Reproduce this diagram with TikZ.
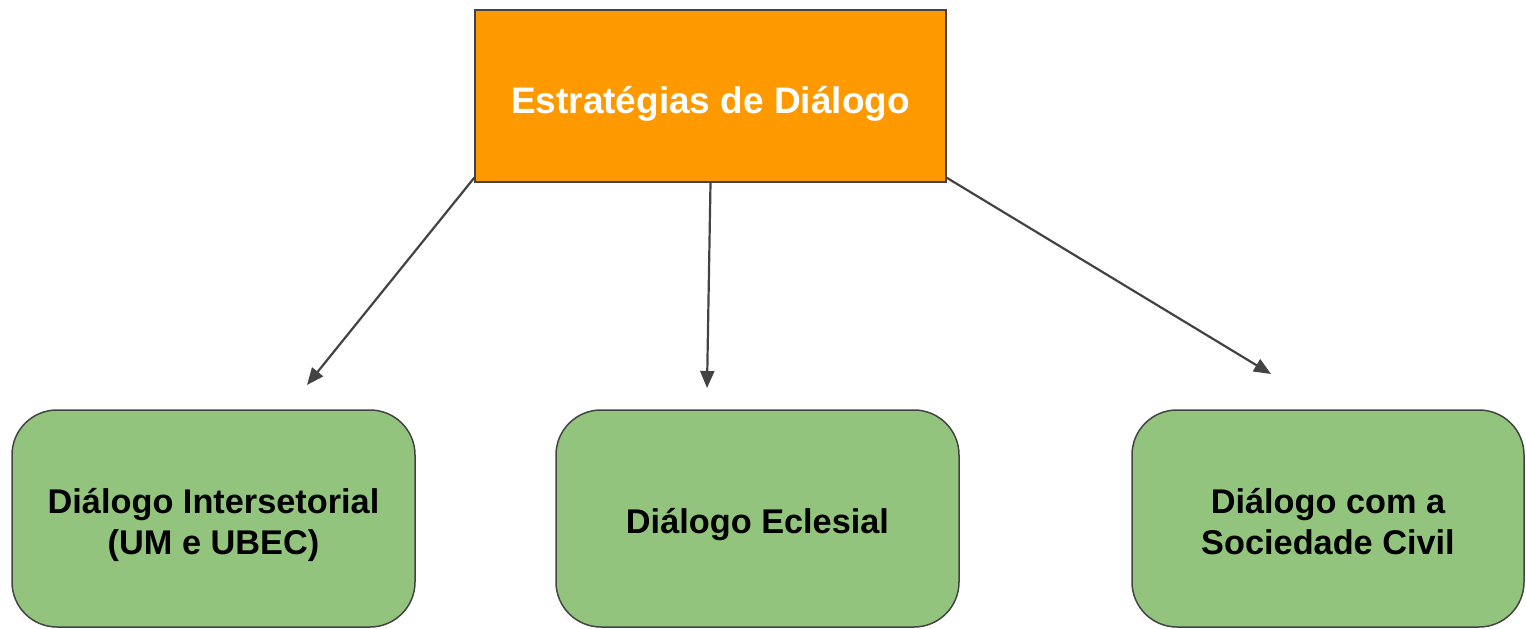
\documentclass[tikz,border=0pt]{standalone}
\usepackage{fontspec}
\setmainfont{Liberation Sans}
\usetikzlibrary{arrows.meta}
\definecolor{orangebox}{HTML}{FF9900}
\definecolor{greenbox}{HTML}{93C47D}
\definecolor{edgegray}{HTML}{434343}
\begin{document}
\begin{tikzpicture}[x=1pt,y=-1pt,
		topbox/.style={draw=edgegray,line width=1.5pt,fill=orangebox,minimum width=471pt,minimum height=172pt,inner sep=0pt,text=white,text height=35pt,text depth=0pt,font=\fontsize{37}{45}\selectfont\bfseries},
		leafbox/.style={draw=edgegray,line width=1.5pt,fill=greenbox,rounded corners=45pt,minimum height=217pt,inner sep=0pt,align=center,font=\fontsize{34.3}{41}\selectfont\bfseries},
		oneline/.style={text height=29pt,text depth=0pt},
		twoline/.style={text height=71pt,text depth=0pt},
		link/.style={draw=edgegray,line width=2.2pt,-{Triangle[length=17pt,width=14pt]}}]
	\useasboundingbox (0,0) rectangle (1526,629);
	\node[topbox] (strat) at (710.5,96) {Estratégias de Diálogo};
	\node[leafbox,twoline,minimum width=403pt] (inter) at (213.5,518.5) {Diálogo Intersetorial\\(UM e UBEC)};
	\node[leafbox,oneline,minimum width=403pt] (ecles) at (757.5,518.5) {Diálogo Eclesial};
	\node[leafbox,twoline,minimum width=392pt] (civil) at (1328,518.5) {Diálogo com a\\Sociedade Civil};
	\coordinate (e1) at (307,385);
	\coordinate (e2) at (707,388);
	\coordinate (e3) at (1271,374);
	\draw[link] ([yshift=5pt]strat.south west) -- (e1);
	\draw[link] (strat.south) -- (e2);
	\draw[link] ([yshift=5pt]strat.south east) -- (e3);
\end{tikzpicture}
\end{document}
